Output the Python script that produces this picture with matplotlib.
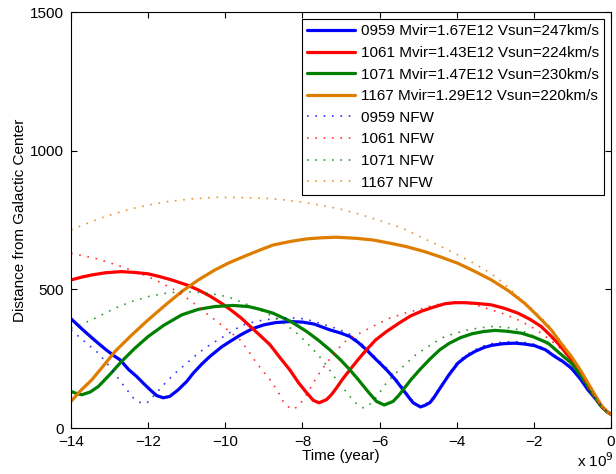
import matplotlib
matplotlib.use("Agg")
import matplotlib.pyplot as plt

plt.rcParams['font.family'] = ['Liberation Sans', 'DejaVu Sans']

# time in Gyr (axis shows x 10^9 years), distance
t_0959 = [-14, -13.7, -13.4, -13.1, -12.86, -12.73, -12.5, -12.3, -12.1, -11.95,
          -11.78, -11.61, -11.44, -11.22, -11.0, -10.83, -10.6, -10.4, -10.1, -9.88,
          -9.6, -9.3, -9.0, -8.7, -8.33, -8.0, -7.7, -7.29, -7.0, -6.77,
          -6.55, -6.34, -6.17, -5.82, -5.6, -5.39, -5.25, -5.13, -4.94, -4.82,
          -4.7, -4.6, -4.44, -4.2, -3.97, -3.75, -3.53, -3.3, -3.1, -2.8,
          -2.5, -2.25, -1.98, -1.7, -1.46, -1.25, -1.03, -0.8, -0.6, -0.4,
          -0.25, -0.1, 0]
r_0959 = [394, 355, 318, 283, 258, 246, 210, 186, 158, 138,
          117, 109, 114, 138, 168, 198, 232, 258, 292, 312,
          336, 358, 372, 380, 384, 382, 375, 354, 342, 330,
          308, 282, 258, 210, 176, 138, 112, 91, 76, 82,
          91, 108, 142, 192, 234, 258, 276, 290, 298, 304,
          306, 303, 297, 282, 258, 240, 216, 178, 138, 105,
          78, 58, 50]

t_1061 = [-14, -13.7, -13.46, -13.1, -12.69, -12.35, -12.0, -11.7, -11.39, -11.0,
          -10.7, -10.4, -10.1, -9.85, -9.6, -9.35, -9.1, -8.84, -8.59, -8.33,
          -8.1, -7.89, -7.72, -7.57, -7.38, -7.25, -7.12, -6.95, -6.77, -6.55,
          -6.34, -6.1, -5.82, -5.5, -5.2, -4.9, -4.6, -4.31, -4.05, -3.79,
          -3.45, -3.1, -2.75, -2.41, -2.1, -1.81, -1.6, -1.38, -1.2, -1.03,
          -0.8, -0.6, -0.4, -0.25, -0.1, 0]
r_1061 = [534, 545, 552, 560, 564, 561, 556, 546, 534, 516,
          498, 476, 450, 425, 398, 366, 334, 300, 255, 210,
          163, 127, 100, 91, 102, 120, 144, 178, 210, 248,
          282, 318, 348, 378, 404, 422, 436, 448, 452, 452,
          449, 444, 431, 414, 392, 366, 338, 306, 276, 246,
          196, 150, 108, 78, 58, 50]

t_1071 = [-14, -13.85, -13.72, -13.5, -13.29, -13.0, -12.69, -12.35, -12.0, -11.6,
          -11.13, -10.7, -10.27, -9.8, -9.4, -9.1, -8.76, -8.3, -7.89, -7.6,
          -7.29, -7.0, -6.77, -6.55, -6.34, -6.2, -6.08, -5.88, -5.65, -5.5,
          -5.39, -5.2, -4.96, -4.7, -4.44, -4.2, -3.9, -3.6, -3.3, -3.01,
          -2.7, -2.32, -2.0, -1.63, -1.35, -1.03, -0.8, -0.6, -0.4, -0.25,
          -0.1, 0]
r_1071 = [132, 124, 120, 130, 150, 192, 240, 287, 330, 370,
          408, 428, 438, 442, 438, 428, 414, 384, 348, 318,
          282, 244, 210, 174, 138, 115, 96, 83, 96, 118,
          138, 172, 210, 248, 282, 305, 326, 340, 348, 352,
          349, 342, 328, 306, 272, 234, 192, 150, 108, 78,
          58, 50]

t_1167 = [-14, -13.75, -13.46, -13.15, -12.86, -12.43, -12.0, -11.55, -11.13, -10.7,
          -10.27, -9.9, -9.49, -9.1, -8.76, -8.3, -7.89, -7.5, -7.12, -6.6,
          -6.17, -5.75, -5.3, -4.83, -4.4, -3.97, -3.55, -3.1, -2.65, -2.24,
          -1.9, -1.55, -1.3, -1.03, -0.8, -0.6, -0.4, -0.25, -0.1, 0]
r_1167 = [96, 135, 174, 226, 276, 335, 390, 444, 492, 534,
          570, 596, 620, 642, 660, 673, 682, 686, 688, 684,
          678, 667, 654, 636, 616, 594, 566, 534, 494, 450,
          404, 354, 306, 258, 210, 163, 116, 82, 58, 50]

# NFW halo runs
tn_0959 = [-14, -13.6, -13.29, -13.0, -12.73, -12.55, -12.39, -12.25, -12.08, -11.95,
           -11.87, -11.7, -11.52, -11.25, -11.0, -10.7, -10.4, -10.1, -9.97, -9.58,
           -9.2, -8.76, -8.4, -8.07, -7.8, -7.46, -7.1, -6.77, -6.5, -6.34,
           -6.17, -5.82, -5.6, -5.39, -5.25, -5.13, -4.98, -4.85, -4.7, -4.6,
           -4.44, -4.2, -3.97, -3.75, -3.53, -3.3, -3.1, -2.8, -2.5, -2.25,
           -1.98, -1.7, -1.46, -1.25, -1.03, -0.8, -0.6, -0.4, -0.25, -0.1, 0]
rn_0959 = [354, 306, 270, 222, 170, 138, 109, 94, 88, 98,
           114, 140, 168, 204, 234, 270, 300, 325, 336, 370,
           385, 394, 397, 396, 388, 374, 358, 338, 308, 288,
           264, 216, 182, 144, 116, 96, 80, 84, 96, 114,
           146, 196, 240, 264, 282, 296, 304, 310, 312, 309,
           302, 286, 262, 243, 220, 180, 140, 106, 80, 58, 50]

tn_1061 = [-14, -13.65, -13.29, -13.0, -12.69, -12.35, -12.0, -11.7, -11.39, -11.05,
           -10.7, -10.5, -10.27, -9.95, -9.62, -9.4, -9.19, -8.84, -8.65, -8.5,
           -8.35, -8.24, -8.1, -7.98, -7.85, -7.72, -7.55, -7.38, -7.15, -6.95,
           -6.75, -6.51, -6.1, -5.74, -5.3, -4.87, -4.6, -4.31, -4.05, -3.79,
           -3.45, -3.1, -2.75, -2.41, -2.1, -1.81, -1.6, -1.38, -1.2, -1.03,
           -0.8, -0.6, -0.4, -0.25, -0.1, 0]
rn_1061 = [630, 620, 609, 596, 582, 565, 546, 526, 504, 474,
           438, 414, 390, 355, 318, 278, 234, 174, 135, 96,
           75, 67, 80, 102, 130, 163, 200, 234, 272, 306,
           326, 342, 372, 396, 416, 432, 443, 450, 453, 452,
           442, 426, 410, 390, 368, 342, 320, 296, 270, 244,
           196, 150, 108, 78, 58, 50]

tn_1071 = [-14, -13.75, -13.46, -13.15, -12.86, -12.45, -12.0, -11.55, -11.13, -10.8,
           -10.44, -10.1, -9.84, -9.62, -9.2, -8.76, -8.5, -8.24, -7.95, -7.63,
           -7.4, -7.2, -6.98, -6.77, -6.6, -6.43, -6.3, -6.17, -6.0, -5.82,
           -5.6, -5.39, -5.1, -4.87, -4.53, -4.31, -4.0, -3.71, -3.4, -3.1,
           -2.76, -2.5, -2.3, -1.98, -1.75, -1.5, -1.25, -1.03, -0.8, -0.6,
           -0.4, -0.25, -0.1, 0]
rn_1071 = [360, 374, 390, 412, 432, 455, 474, 486, 492, 490,
           486, 478, 468, 456, 432, 402, 378, 354, 316, 270,
           230, 190, 150, 114, 88, 73, 80, 96, 128, 163,
           195, 222, 260, 282, 312, 330, 343, 354, 361, 366,
           364, 358, 350, 330, 312, 288, 262, 236, 192, 150,
           108, 78, 58, 50]

tn_1167 = [-14, -13.6, -13.25, -12.8, -12.39, -11.95, -11.52, -10.9, -10.23, -9.6,
           -8.93, -8.5, -8.07, -7.55, -7.03, -6.5, -6.0, -5.4, -4.74, -4.4,
           -3.97, -3.55, -3.1, -2.75, -2.43, -2.0, -1.6, -1.3, -1.03, -0.8,
           -0.6, -0.4, -0.25, -0.1, 0]
rn_1167 = [714, 737, 756, 776, 792, 805, 816, 826, 832, 831,
           828, 823, 816, 804, 790, 770, 748, 720, 676, 654,
           624, 594, 556, 518, 476, 424, 368, 312, 262, 212,
           165, 118, 84, 58, 50]

labels = ['0959 Mvir=1.67E12 Vsun=247km/s',
          '1061 Mvir=1.43E12 Vsun=224km/s',
          '1071 Mvir=1.47E12 Vsun=230km/s',
          '1167 Mvir=1.29E12 Vsun=220km/s',
          '0959 NFW', '1061 NFW', '1071 NFW', '1167 NFW']
colors = ['#0000ff', '#ff0000', '#008000', '#de7d00']

fig = plt.figure(figsize=(6.16, 4.74), dpi=100)
ax = fig.add_axes([0.1153, 0.097, 0.8766, 0.8776])

solid = [(t_0959, r_0959), (t_1061, r_1061), (t_1071, r_1071), (t_1167, r_1167)]
nfw = [(tn_0959, rn_0959), (tn_1061, rn_1061), (tn_1071, rn_1071), (tn_1167, rn_1167)]

for (t, r), c, lab in zip(solid, colors, labels[:4]):
    ax.plot(t, r, color=c, lw=2.3, label=lab, solid_joinstyle='round',
            solid_capstyle='round')
for (t, r), c, lab in zip(nfw, colors, labels[4:]):
    ax.plot(t, r, color=c, lw=1.2, ls=(0, (1, 4)), alpha=0.8, label=lab)

ax.set_xlim(-14, 0)
ax.set_ylim(0, 1500)
ax.set_xticks(range(-14, 1, 2))
ax.set_yticks([0, 500, 1000, 1500])
ax.tick_params(direction='in', top=True, right=True, labelsize=11, length=4, pad=5)
ax.set_xlabel('Time (year)', fontsize=11, labelpad=0)
ax.set_ylabel('Distance from Galactic Center', fontsize=11, labelpad=2)
fig.text(0.997, 0.008, r'x 10$^9$', fontsize=11, ha='right', va='bottom')

leg = ax.legend(loc='upper right', fontsize=11, handlelength=3.1, fancybox=False,
                framealpha=1, edgecolor='black', borderaxespad=0.45,
                labelspacing=0.5, handletextpad=0.4, borderpad=0.35)
leg.get_frame().set_linewidth(0.8)

fig.savefig('out.png', dpi=100)
